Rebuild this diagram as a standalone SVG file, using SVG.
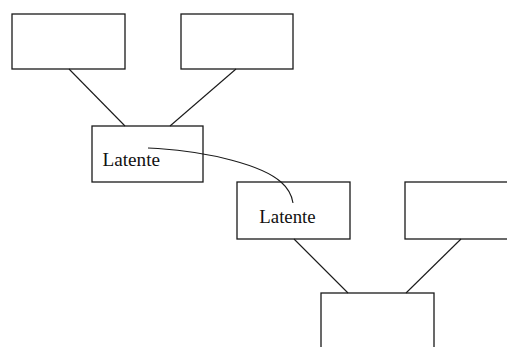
<svg xmlns="http://www.w3.org/2000/svg" width="507" height="347" viewBox="0 0 507 347">
  <style>
    .box { fill: #ffffff; stroke: #1a1a1a; stroke-width: 1.3; }
    .edge { fill: none; stroke: #1a1a1a; stroke-width: 1.1; }
    .label { font-family: "Liberation Serif", "Times New Roman", serif; font-size: 19px; fill: #111111; }
  </style>
  <rect width="507" height="347" fill="#ffffff"/>
  <g id="top-left">
    <rect class="box" x="12" y="14" width="113" height="55"/>
  </g>
  <g id="top-right">
    <rect class="box" x="181" y="14" width="112" height="55"/>
  </g>
  <g id="latente-1">
    <rect class="box" x="92" y="126" width="111" height="56"/>
    <text class="label" x="102.5" y="166" textLength="57.5" lengthAdjust="spacingAndGlyphs">Latente</text>
  </g>
  <g id="latente-2">
    <rect class="box" x="237" y="182" width="113" height="57"/>
    <text class="label" x="259.3" y="223.3" textLength="56.4" lengthAdjust="spacingAndGlyphs">Latente</text>
  </g>
  <g id="mid-right">
    <rect class="box" x="405" y="182" width="110" height="57"/>
  </g>
  <g id="bottom">
    <rect class="box" x="321" y="293" width="113" height="60"/>
  </g>
  <!-- connectors drawn last so the curved link crosses over the box borders -->
  <g id="connectors">
    <line class="edge" x1="69" y1="69" x2="125" y2="126"/>
    <line class="edge" x1="236" y1="69" x2="170" y2="126"/>
    <line class="edge" x1="294" y1="239" x2="348" y2="293"/>
    <line class="edge" x1="461" y1="239" x2="406" y2="293"/>
    <path class="edge" d="M148,148 L158,148.5 C210,152 262,165 281,182 C289,189 292,196 293,203"/>
  </g>
</svg>
